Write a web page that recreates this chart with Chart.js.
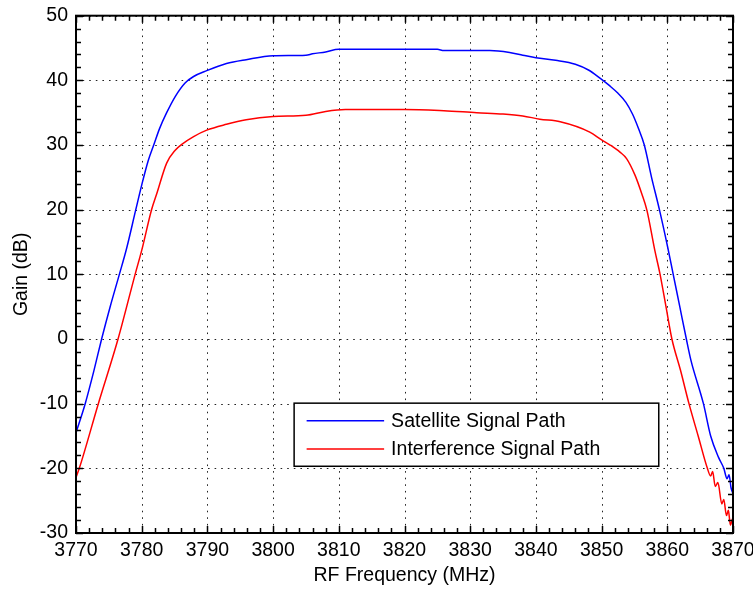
<!DOCTYPE html>
<html>
<head>
<meta charset="utf-8">
<script src="https://cdn.jsdelivr.net/npm/chart.js@4/dist/chart.umd.min.js"></script>
<style>
  html, body { margin: 0; padding: 0; background: #fff; }
  #wrap { width: 753px; height: 589px; position: relative; }
</style>
</head>
<body>
<div id="wrap"><canvas id="c"></canvas></div>
<script>
// Measured gain of the two signal paths across the RF band
const satFreq = [3770, 3771.4, 3772.7, 3773.9, 3775.2, 3776.6, 3777.7, 3779.1, 3780, 3781,
  3781.9, 3782.7, 3783.8, 3785.1, 3786.6, 3787.9, 3789.9, 3792.9, 3795.9, 3800,
  3805, 3806, 3808, 3810, 3817, 3825, 3826, 3833, 3836, 3838,
  3840, 3843, 3846, 3848, 3849.8, 3851.3, 3852.5, 3853.7, 3854.7, 3855.6,
  3856.5, 3857.6, 3858.8, 3860.1, 3860.9, 3861.9, 3862.9, 3863.6, 3865.5, 3866.6,
  3867.8, 3868.6, 3869.1, 3869.4, 3869.7, 3870];
const satGain = [-14.5, -10, -5, 0, 5, 10, 14, 20, 23.8, 27.6,
  30.2, 32.5, 35.0, 37.5, 39.6, 40.6, 41.5, 42.6, 43.2, 43.8,
  43.9, 44.1, 44.4, 44.8, 44.8, 44.8, 44.6, 44.6, 44.3, 43.9,
  43.5, 43.1, 42.5, 41.6, 40.3, 39.1, 38.0, 36.6, 34.8, 32.6,
  30, 25, 20, 14, 10, 5, 0, -3.3, -10, -15,
  -18.3, -20, -21.6, -21, -23, -23.9];

const intFreq = [3770, 3770.5, 3773.4, 3776.4, 3779, 3780, 3781.5, 3782.3, 3783.8, 3785.1,
  3786.1, 3787.9, 3789.9, 3792.9, 3795.9, 3800, 3805, 3808, 3811, 3820,
  3826, 3831, 3835, 3838, 3840.6, 3843.7, 3848.2, 3850, 3851.3, 3852.8,
  3853.8, 3855.1, 3856.1, 3856.9, 3858.1, 3858.9, 3859.8, 3860.7, 3862.0, 3863.3,
  3864.7, 3866.1, 3866.6, 3866.9, 3867.3, 3867.7, 3868.3, 3868.6, 3869.0, 3869.3,
  3869.6, 3869.8, 3870];
const intGain = [-21.4, -20, -10, 0, 10, 13.7, 20, 22.5, 27.2, 29.2,
  30.1, 31.3, 32.3, 33.2, 33.9, 34.4, 34.6, 35.2, 35.5, 35.5,
  35.3, 35.0, 34.8, 34.5, 34.0, 33.6, 32.0, 30.8, 30.0, 28.9,
  27.9, 25.3, 22.5, 19.9, 13.7, 10, 5, 0, -4.8, -10,
  -15, -20, -21.2, -20.5, -22.8, -22.2, -25.5, -24.8, -27.3, -26.5,
  -28.8, -28.2, -27.6];

const seriesNames = ['Satellite Signal Path', 'Interference Signal Path'];
const seriesColors = ['#0000ff', '#ff0000'];

const xMin = 3770, xMax = 3870, xMajor = 10, xMinor = 2;
const yMin = -30, yMax = 50, yMajor = 10, yMinor = 2;

const FONT = 'Liberation Sans, Arial, sans-serif';
const FONT_SIZE = 19.5;

const toPoints = (xs, ys) => xs.map((x, i) => ({ x: x, y: ys[i] }));
const isMajor = (v, step) => Math.abs(v / step - Math.round(v / step)) < 1e-6;

// Dotted grid at major ticks, drawn under the curves
const gridPlugin = {
  id: 'dottedGrid',
  beforeDatasetsDraw(chart) {
    const { ctx, chartArea: a, scales: { x, y } } = chart;
    ctx.save();
    ctx.strokeStyle = '#222';
    ctx.lineWidth = 1;
    ctx.setLineDash([1.6, 5]);
    x.ticks.forEach(t => {
      if (!isMajor(t.value, xMajor)) return;
      const px = Math.round(x.getPixelForValue(t.value)) + 0.5;
      ctx.beginPath(); ctx.moveTo(px, a.top); ctx.lineTo(px, a.bottom); ctx.stroke();
    });
    y.ticks.forEach(t => {
      if (!isMajor(t.value, yMajor)) return;
      const py = Math.round(y.getPixelForValue(t.value)) + 0.5;
      ctx.beginPath(); ctx.moveTo(a.left, py); ctx.lineTo(a.right, py); ctx.stroke();
    });
    ctx.restore();
  }
};

// Axes box with inward tick marks on all four sides, plus the legend
const framePlugin = {
  id: 'frameAndLegend',
  afterDatasetsDraw(chart) {
    const { ctx, chartArea: a, scales: { x, y } } = chart;
    ctx.save();
    ctx.strokeStyle = '#000';
    ctx.setLineDash([]);
    ctx.lineWidth = 1.5;
    x.ticks.forEach(t => {
      const len = isMajor(t.value, xMajor) ? 7 : 5;
      const px = Math.round(x.getPixelForValue(t.value)) + 0.5;
      ctx.beginPath();
      ctx.moveTo(px, a.bottom); ctx.lineTo(px, a.bottom - len);
      ctx.moveTo(px, a.top); ctx.lineTo(px, a.top + len);
      ctx.stroke();
    });
    y.ticks.forEach(t => {
      const len = isMajor(t.value, yMajor) ? 7 : 5;
      const py = Math.round(y.getPixelForValue(t.value)) + 0.5;
      ctx.beginPath();
      ctx.moveTo(a.left, py); ctx.lineTo(a.left + len, py);
      ctx.moveTo(a.right, py); ctx.lineTo(a.right - len, py);
      ctx.stroke();
    });
    ctx.lineWidth = 2;
    ctx.strokeRect(a.left, a.top, a.right - a.left, a.bottom - a.top);

    // legend box in the lower middle of the plot
    const w = a.right - a.left, h = a.bottom - a.top;
    const bx = a.left + 0.332 * w, bx2 = a.left + 0.887 * w;
    const by = a.top + 0.749 * h, by2 = a.top + 0.871 * h;
    ctx.fillStyle = '#fff';
    ctx.fillRect(bx, by, bx2 - bx, by2 - by);
    ctx.lineWidth = 1.5;
    ctx.strokeRect(bx, by, bx2 - bx, by2 - by);
    ctx.font = FONT_SIZE + 'px ' + FONT;
    ctx.textBaseline = 'middle';
    ctx.textAlign = 'left';
    chart.data.datasets.forEach((ds, i) => {
      const ry = by + 17.5 + i * 28.3;
      ctx.strokeStyle = ds.borderColor;
      ctx.lineWidth = 1.5;
      ctx.beginPath(); ctx.moveTo(bx + 12.5, ry); ctx.lineTo(bx + 90, ry); ctx.stroke();
      ctx.fillStyle = '#000';
      ctx.fillText(ds.label, bx + 97, ry + 1);
    });
    ctx.restore();
  }
};

new Chart(document.getElementById('c'), {
  type: 'line',
  data: {
    datasets: [
      { label: seriesNames[0], data: toPoints(satFreq, satGain), borderColor: seriesColors[0] },
      { label: seriesNames[1], data: toPoints(intFreq, intGain), borderColor: seriesColors[1] }
    ]
  },
  options: {
    responsive: true,
    maintainAspectRatio: false,
    animation: false,
    layout: { padding: { top: 15.7, right: 20, bottom: 0, left: 0 } },
    elements: {
      point: { radius: 0 },
      line: { borderWidth: 1.5, cubicInterpolationMode: 'monotone', fill: false }
    },
    plugins: { legend: { display: false }, tooltip: { enabled: false } },
    scales: {
      x: {
        type: 'linear', min: xMin, max: xMax,
        grid: { display: false, drawTicks: false },
        border: { display: false },
        ticks: {
          stepSize: xMinor, autoSkip: false, maxRotation: 0, padding: 6,
          color: '#000', font: { family: FONT, size: FONT_SIZE },
          callback: v => isMajor(v, xMajor) ? String(v) : ''
        },
        title: {
          display: true, text: 'RF Frequency (MHz)', color: '#000',
          font: { family: FONT, size: FONT_SIZE }, padding: { top: 0, bottom: 2 }
        },
        afterFit: s => { s.height = 56; s.paddingLeft = 0; s.paddingRight = 0; }
      },
      y: {
        type: 'linear', min: yMin, max: yMax,
        grid: { display: false, drawTicks: false },
        border: { display: false },
        ticks: {
          stepSize: yMinor, autoSkip: false, padding: 8,
          color: '#000', font: { family: FONT, size: FONT_SIZE },
          callback: v => isMajor(v, yMajor) ? String(v) : ''
        },
        title: {
          display: true, text: 'Gain (dB)', color: '#000',
          font: { family: FONT, size: FONT_SIZE }, padding: { top: 10, bottom: 0 }
        },
        afterFit: s => { s.width = 76; s.paddingTop = 0; s.paddingBottom = 0; }
      }
    }
  },
  plugins: [gridPlugin, framePlugin]
});
</script>
</body>
</html>
